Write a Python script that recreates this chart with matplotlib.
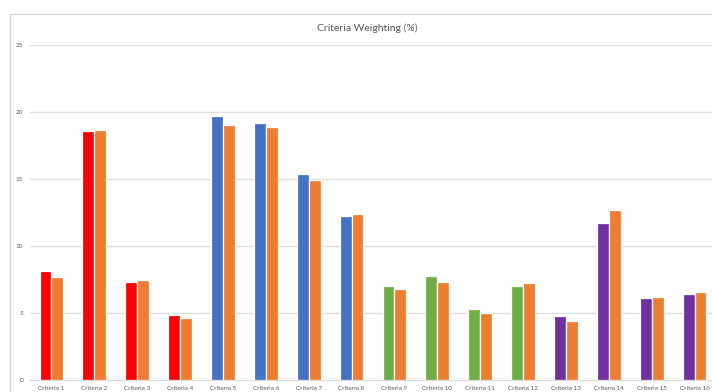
import numpy as np
import matplotlib
matplotlib.use("Agg")
from matplotlib import pyplot as plt
from matplotlib.patches import Rectangle

plt.rcParams['font.family'] = ['Lato', 'DejaVu Sans']

criteria = ["Criteria %d" % i for i in range(1, 17)]
weight_a = [8.13, 18.55, 7.29, 4.85, 19.70, 19.15, 15.40, 12.26,
            7.01, 7.74, 5.30, 6.99, 4.80, 11.69, 6.10, 6.40]
weight_b = [7.70, 18.67, 7.44, 4.63, 19.05, 18.88, 14.93, 12.39,
            6.77, 7.29, 4.97, 7.24, 4.38, 12.66, 6.22, 6.59]
group_colors = ["#FF0000"] * 4 + ["#4472C4"] * 4 + ["#70AD47"] * 4 + ["#7030A0"] * 4
second_color = "#ED7D31"
y_ticks = [0, 5, 10, 15, 20, 25]

W, H = 712, 392
fig = plt.figure(figsize=(W / 100, H / 100), dpi=100)
fig.patch.set_facecolor("white")

# chart frame (runs off the right and bottom edges)
fig.patches.append(Rectangle((10 / W, -0.1), 1.2, (H - 14) / H + 0.1,
                             transform=fig.transFigure, fill=False,
                             edgecolor="#d9d9d9", linewidth=1))

ax = fig.add_axes([30 / W, 12 / H, 686 / W, 335 / H])
x = np.arange(len(criteria))
off = 0.139
ax.bar(x - off, weight_a, width=0.278, color=group_colors,
       edgecolor="white", linewidth=0.9, zorder=3)
ax.bar(x + off, weight_b, width=0.278, color=second_color,
       edgecolor="white", linewidth=0.9, zorder=3)

ax.set_xlim(-0.5, len(criteria) - 0.5)
ax.set_ylim(0, 25)
ax.set_yticks(y_ticks)
ax.set_xticks(x)
ax.set_xticklabels(criteria)
ax.tick_params(axis="both", length=0, colors="#595959", labelsize=4.6)
ax.tick_params(axis="y", pad=5)
ax.tick_params(axis="x", pad=4)
ax.grid(axis="y", color="#e0e0e0", linewidth=1, zorder=0)
for side in ["top", "right", "left"]:
    ax.spines[side].set_visible(False)
ax.spines["bottom"].set_color("#d9d9d9")
ax.spines["bottom"].set_zorder(4)

fig.text(367 / W, 1 - 28 / H, "Criteria Weighting (%)", ha="center", va="center",
         fontsize=7.5, color="#595959")

fig.savefig("out.png", dpi=100)
